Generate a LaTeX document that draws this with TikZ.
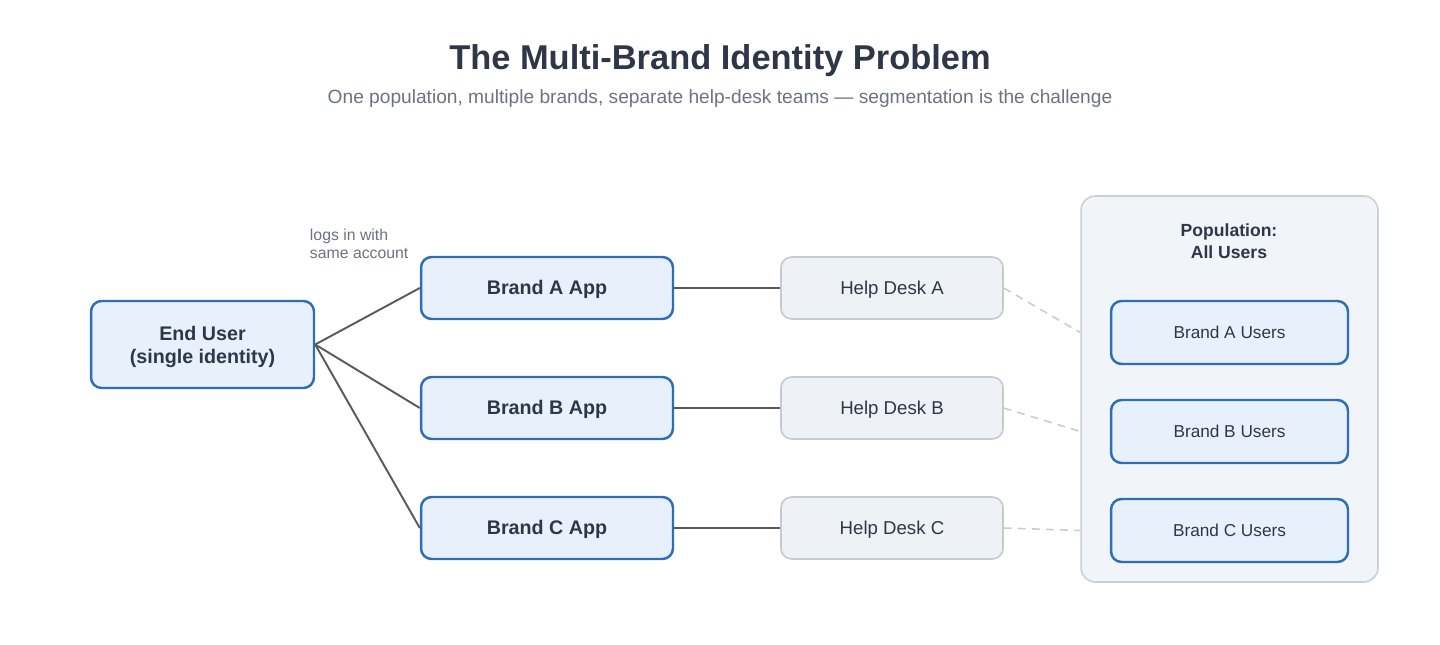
\documentclass[tikz,border=0pt]{standalone}
\usepackage{fontspec}
\setmainfont{Liberation Sans}
\usetikzlibrary{positioning}
\definecolor{cnavy}{HTML}{2D3748}
\definecolor{cgrey}{HTML}{6B7280}
\definecolor{cblue}{HTML}{2F6DB5}
\definecolor{cbluefill}{HTML}{E8F1FB}
\definecolor{cdesk}{HTML}{EEF2F6}
\definecolor{cdeskline}{HTML}{C3CAD3}
\definecolor{cpop}{HTML}{F1F4F8}
\definecolor{cpopline}{HTML}{C9D0D8}
\definecolor{clink}{HTML}{5A5A5A}
\definecolor{cdash}{HTML}{C8CDD3}
\tikzset{
  every picture/.style={line width=1.1pt},
  oneline/.style={text height=0.72em, text depth=0pt},
  bluebox/.style={draw=cblue, fill=cbluefill, rounded corners=6pt, line width=1.4pt, align=center, text=cnavy},
  appbox/.style={bluebox, oneline, minimum width=5.04cm, minimum height=1.24cm, font=\fontsize{11.2}{13}\selectfont\bfseries},
  userbox/.style={bluebox, oneline, minimum width=4.74cm, minimum height=1.26cm, font=\fontsize{9.8}{12}\selectfont},
  deskbox/.style={draw=cdeskline, fill=cdesk, rounded corners=6pt, line width=0.9pt, oneline, minimum width=4.44cm, minimum height=1.24cm, text=cnavy, font=\fontsize{10.6}{12}\selectfont},
  link/.style={draw=clink, line width=1.1pt},
  dashlink/.style={draw=cdash, line width=0.9pt, dash pattern=on 4.5pt off 3.5pt},
}
\begin{document}
\begin{tikzpicture}[x=0.02cm, y=-0.02cm]
  \useasboundingbox (0,0) rectangle (1440,645);
  % heading
  \node[oneline, text=cnavy, font=\fontsize{19.6}{22}\selectfont\bfseries] (title) at (720,63) {The Multi-Brand Identity Problem};
  \node[oneline, text=cgrey, font=\fontsize{10.9}{12}\selectfont] (subtitle) at (720,97) {One population, multiple brands, separate help-desk teams --- segmentation is the challenge};
  % population container
  \node[draw=cpopline, fill=cpop, rounded corners=8pt, line width=0.9pt, minimum width=5.94cm, minimum height=7.72cm] (pop) at (1229.5,389) {};
  \node[text=cnavy, align=center, font=\fontsize{10}{12.5}\selectfont\bfseries] (poptitle) at (1229,241) {Population:\\All Users};
  \node[userbox] (ua) at (1229.5,332.5) {Brand A Users};
  \node[userbox] (ub) at (1229.5,431.5) {Brand B Users};
  \node[userbox] (uc) at (1229.5,530.5) {Brand C Users};
  % end user and apps
  \node[bluebox, minimum width=4.46cm, minimum height=1.74cm, font=\fontsize{11.2}{13.6}\selectfont\bfseries] (user) at (202.5,344.5) {};
  \node[text=cnavy, align=center, font=\fontsize{11.2}{13.6}\selectfont\bfseries] (usertext) at (202.5,347) {End User\\(single identity)};
  \node[appbox] (appa) at (547,288) {Brand A App};
  \node[appbox] (appb) at (547,408) {Brand B App};
  \node[appbox] (appc) at (547,528) {Brand C App};
  \node[text=cgrey, align=left, anchor=north west, inner sep=0pt, font=\fontsize{9}{10.2}\selectfont] (login) at (309,228) {logs in with\\same account};
  % help desks
  \node[deskbox] (hda) at (892,288) {Help Desk A};
  \node[deskbox] (hdb) at (892,408) {Help Desk B};
  \node[deskbox] (hdc) at (892,528) {Help Desk C};
  % connectors
  \draw[link] (user.east) -- (appa.west);
  \draw[link] (user.east) -- (appb.west);
  \draw[link] (user.east) -- (appc.west);
  \draw[link] (appa) -- (hda);
  \draw[link] (appb) -- (hdb);
  \draw[link] (appc) -- (hdc);
  \draw[dashlink] (hda.east) -- (pop.west |- ua.west);
  \draw[dashlink] (hdb.east) -- (pop.west |- ub.west);
  \draw[dashlink] (hdc.east) -- (pop.west |- uc.west);
\end{tikzpicture}
\end{document}
